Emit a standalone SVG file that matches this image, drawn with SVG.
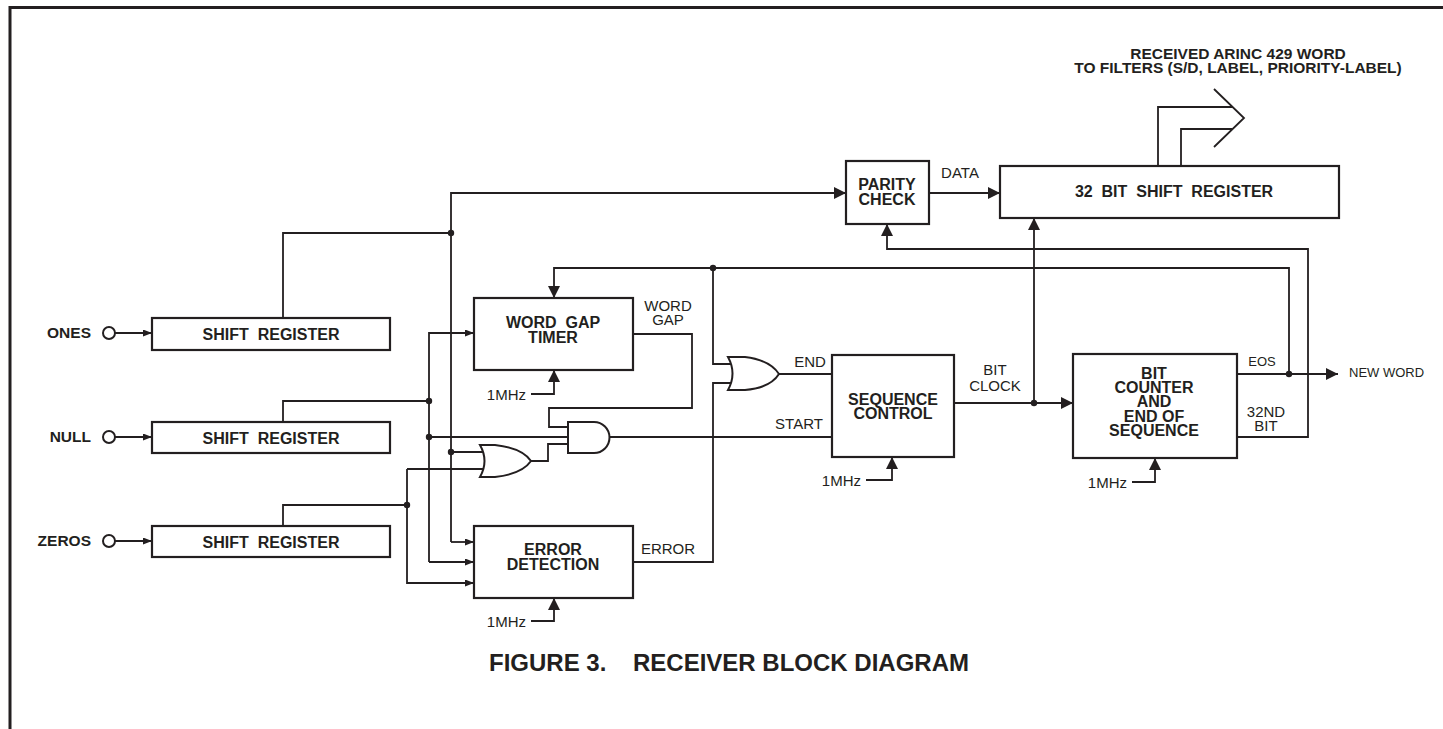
<svg xmlns="http://www.w3.org/2000/svg" width="1443" height="729" viewBox="0 0 1443 729">
<style>
.box{fill:#fff;stroke:#231f20;stroke-width:2.2}
.ln{fill:none;stroke:#231f20;stroke-width:1.8}
.gate{fill:#fff;stroke:#231f20;stroke-width:2}
.dot{fill:#231f20}
.b{font-family:"Liberation Sans",Arial,sans-serif;font-weight:bold;font-size:16px;fill:#231f20;text-anchor:middle}
.r{font-family:"Liberation Sans",Arial,sans-serif;font-size:15px;fill:#231f20;text-anchor:middle}
.s{font-family:"Liberation Sans",Arial,sans-serif;font-size:13px;fill:#231f20}
.clk{font-family:"Liberation Sans",Arial,sans-serif;font-size:15px;fill:#231f20;text-anchor:end}
</style>
<defs>
<marker id="big" viewBox="0 0 12 12" refX="12" refY="6" markerWidth="12" markerHeight="12" markerUnits="userSpaceOnUse" orient="auto"><path d="M0,0 L12,6 L0,12 Z" fill="#231f20"/></marker>
<marker id="sm" viewBox="0 0 9 7" refX="9" refY="3.5" markerWidth="9" markerHeight="7" markerUnits="userSpaceOnUse" orient="auto"><path d="M0,0 L9,3.5 L0,7 Z" fill="#231f20"/></marker>
</defs>
<rect width="1443" height="729" fill="#fff"/>
<g id="frame"><path d="M10,729 V7.5 H1443" fill="none" stroke="#231f20" stroke-width="3"/></g>

<g id="connectors">
<path class="ln" d="M115,333 H152" marker-end="url(#sm)"/>
<path class="ln" d="M115,437 H152" marker-end="url(#sm)"/>
<path class="ln" d="M115,541 H152" marker-end="url(#sm)"/>
<path class="ln" d="M283,318 V233 H451"/>
<path class="ln" d="M451,542 V193 H846" marker-end="url(#big)"/>
<path class="ln" d="M451,542 H474" marker-end="url(#sm)"/>
<path class="ln" d="M929,193 H1000" marker-end="url(#big)"/>
<path class="ln" d="M283,422 V401 H429"/>
<path class="ln" d="M429,562 V333 H474" marker-end="url(#sm)"/>
<path class="ln" d="M429,562 H474" marker-end="url(#sm)"/>
<path class="ln" d="M429,437 H568"/>
<path class="ln" d="M283,526 V505 H407"/>
<path class="ln" d="M407,469 V583 H474" marker-end="url(#sm)"/>
<path class="ln" d="M407,469 H486"/>
<path class="ln" d="M451,452 H486"/>
<path class="ln" d="M531,461 H548 V444 H568"/>
<path class="ln" d="M633,334 H692 V408 H549 V427 H568"/>
<path class="ln" d="M610,437 H832"/>
<path class="ln" d="M1289,374 V268 H554 V298" marker-end="url(#big)"/>
<path class="ln" d="M713,268 V364 H733"/>
<path class="ln" d="M633,562 H713 V383 H733"/>
<path class="ln" d="M779,374 H832"/>
<path class="ln" d="M954,403 H1073" marker-end="url(#big)"/>
<path class="ln" d="M1034,403 V218" marker-end="url(#big)"/>
<path class="ln" d="M1237,374 H1338" marker-end="url(#big)"/>
<path class="ln" d="M1237,437 H1308 V249 H887 V224" marker-end="url(#big)"/>
<path class="ln" d="M531,394 H554 V370" marker-end="url(#big)"/>
<path class="ln" d="M531,621 H554 V598" marker-end="url(#big)"/>
<path class="ln" d="M866,480 H892 V457" marker-end="url(#big)"/>
<path class="ln" d="M1132,482 H1155 V458" marker-end="url(#big)"/>
<path class="ln" d="M1158,166 V107 H1233"/>
<path class="ln" d="M1181,166 V129 H1232"/>
<path class="ln" d="M1214,89 L1244,118 L1214,147" stroke-width="2.2"/>
<circle class="dot" cx="451" cy="233" r="3.2"/>
<circle class="dot" cx="451" cy="452" r="3.2"/>
<circle class="dot" cx="429" cy="401" r="3.2"/>
<circle class="dot" cx="429" cy="437" r="3.2"/>
<circle class="dot" cx="407" cy="505" r="3.2"/>
<circle class="dot" cx="713" cy="268" r="3.2"/>
<circle class="dot" cx="1034" cy="403" r="3.2"/>
<circle class="dot" cx="1289" cy="374" r="3.2"/>
</g>

<g id="in-ones"><circle cx="109" cy="333" r="6" fill="#fff" stroke="#231f20" stroke-width="2"/><text class="b" x="91" y="338" style="text-anchor:end;font-size:15.5px">ONES</text></g>
<g id="in-null"><circle cx="109" cy="437" r="6" fill="#fff" stroke="#231f20" stroke-width="2"/><text class="b" x="91" y="442" style="text-anchor:end;font-size:15.5px">NULL</text></g>
<g id="in-zeros"><circle cx="109" cy="541" r="6" fill="#fff" stroke="#231f20" stroke-width="2"/><text class="b" x="91" y="546" style="text-anchor:end;font-size:15.5px">ZEROS</text></g>

<g id="sr-ones"><rect class="box" x="152" y="318" width="238" height="32"/><text class="b" x="271" y="340" xml:space="preserve">SHIFT  REGISTER</text></g>
<g id="sr-null"><rect class="box" x="152" y="422" width="238" height="31"/><text class="b" x="271" y="444" xml:space="preserve">SHIFT  REGISTER</text></g>
<g id="sr-zeros"><rect class="box" x="152" y="526" width="238" height="31"/><text class="b" x="271" y="548" xml:space="preserve">SHIFT  REGISTER</text></g>

<g id="word-gap-timer"><rect class="box" x="474" y="298" width="159" height="72"/><text class="b" x="553" y="328" xml:space="preserve">WORD  GAP</text><text class="b" x="553" y="343">TIMER</text></g>
<g id="error-detection"><rect class="box" x="474" y="526" width="159" height="72"/><text class="b" x="553" y="555">ERROR</text><text class="b" x="553" y="570">DETECTION</text></g>
<g id="parity-check"><rect class="box" x="846" y="161" width="83" height="63"/><text class="b" x="887" y="190">PARITY</text><text class="b" x="887" y="205">CHECK</text></g>
<g id="shift-register-32"><rect class="box" x="1000" y="166" width="339" height="52"/><text class="b" x="1174" y="197" xml:space="preserve">32  BIT  SHIFT  REGISTER</text></g>
<g id="sequence-control"><rect class="box" x="832" y="355" width="122" height="102"/><text class="b" x="893" y="405">SEQUENCE</text><text class="b" x="893" y="419">CONTROL</text></g>
<g id="bit-counter"><rect class="box" x="1073" y="354" width="164" height="104"/><text class="b" x="1154" y="379">BIT</text><text class="b" x="1154" y="393">COUNTER</text><text class="b" x="1154" y="407">AND</text><text class="b" x="1154" y="422">END OF</text><text class="b" x="1154" y="436">SEQUENCE</text></g>

<g id="or-end"><path class="gate" d="M728,357 L745,357 Q770,360 779,374 Q770,388 745,390 L728,390 Q737,373.5 728,357 Z"/></g>
<g id="or-start"><path class="gate" d="M480,445 L495,445 Q522,448 531,461 Q522,474 495,477 L480,477 Q489,461 480,445 Z"/></g>
<g id="and-start"><path class="gate" d="M568,422 L594,422 A15.5,15.5 0 0 1 594,453 L568,453 Z"/></g>

<g id="labels">
<text class="r" x="960" y="178">DATA</text>
<text class="r" x="668" y="311">WORD</text>
<text class="r" x="668" y="325">GAP</text>
<text class="r" x="810" y="367">END</text>
<text class="r" x="799" y="429">START</text>
<text class="r" x="668" y="554">ERROR</text>
<text class="r" x="995" y="375">BIT</text>
<text class="r" x="995" y="391">CLOCK</text>
<text class="s" x="1262" y="366" style="text-anchor:middle">EOS</text>
<text class="r" x="1266" y="417">32ND</text>
<text class="r" x="1266" y="431">BIT</text>
<text class="s" x="1349" y="377">NEW WORD</text>
<text class="clk" x="526" y="400">1MHz</text>
<text class="clk" x="526" y="627">1MHz</text>
<text class="clk" x="861" y="486">1MHz</text>
<text class="clk" x="1127" y="488">1MHz</text>
<text class="b" x="1238" y="59" style="font-size:15.5px">RECEIVED ARINC 429 WORD</text>
<text class="b" x="1238" y="73" style="font-size:15.5px">TO FILTERS (S/D, LABEL, PRIORITY-LABEL)</text>
<text class="b" x="729" y="671" style="font-size:24px" xml:space="preserve">FIGURE 3.    RECEIVER BLOCK DIAGRAM</text>
</g>
</svg>
